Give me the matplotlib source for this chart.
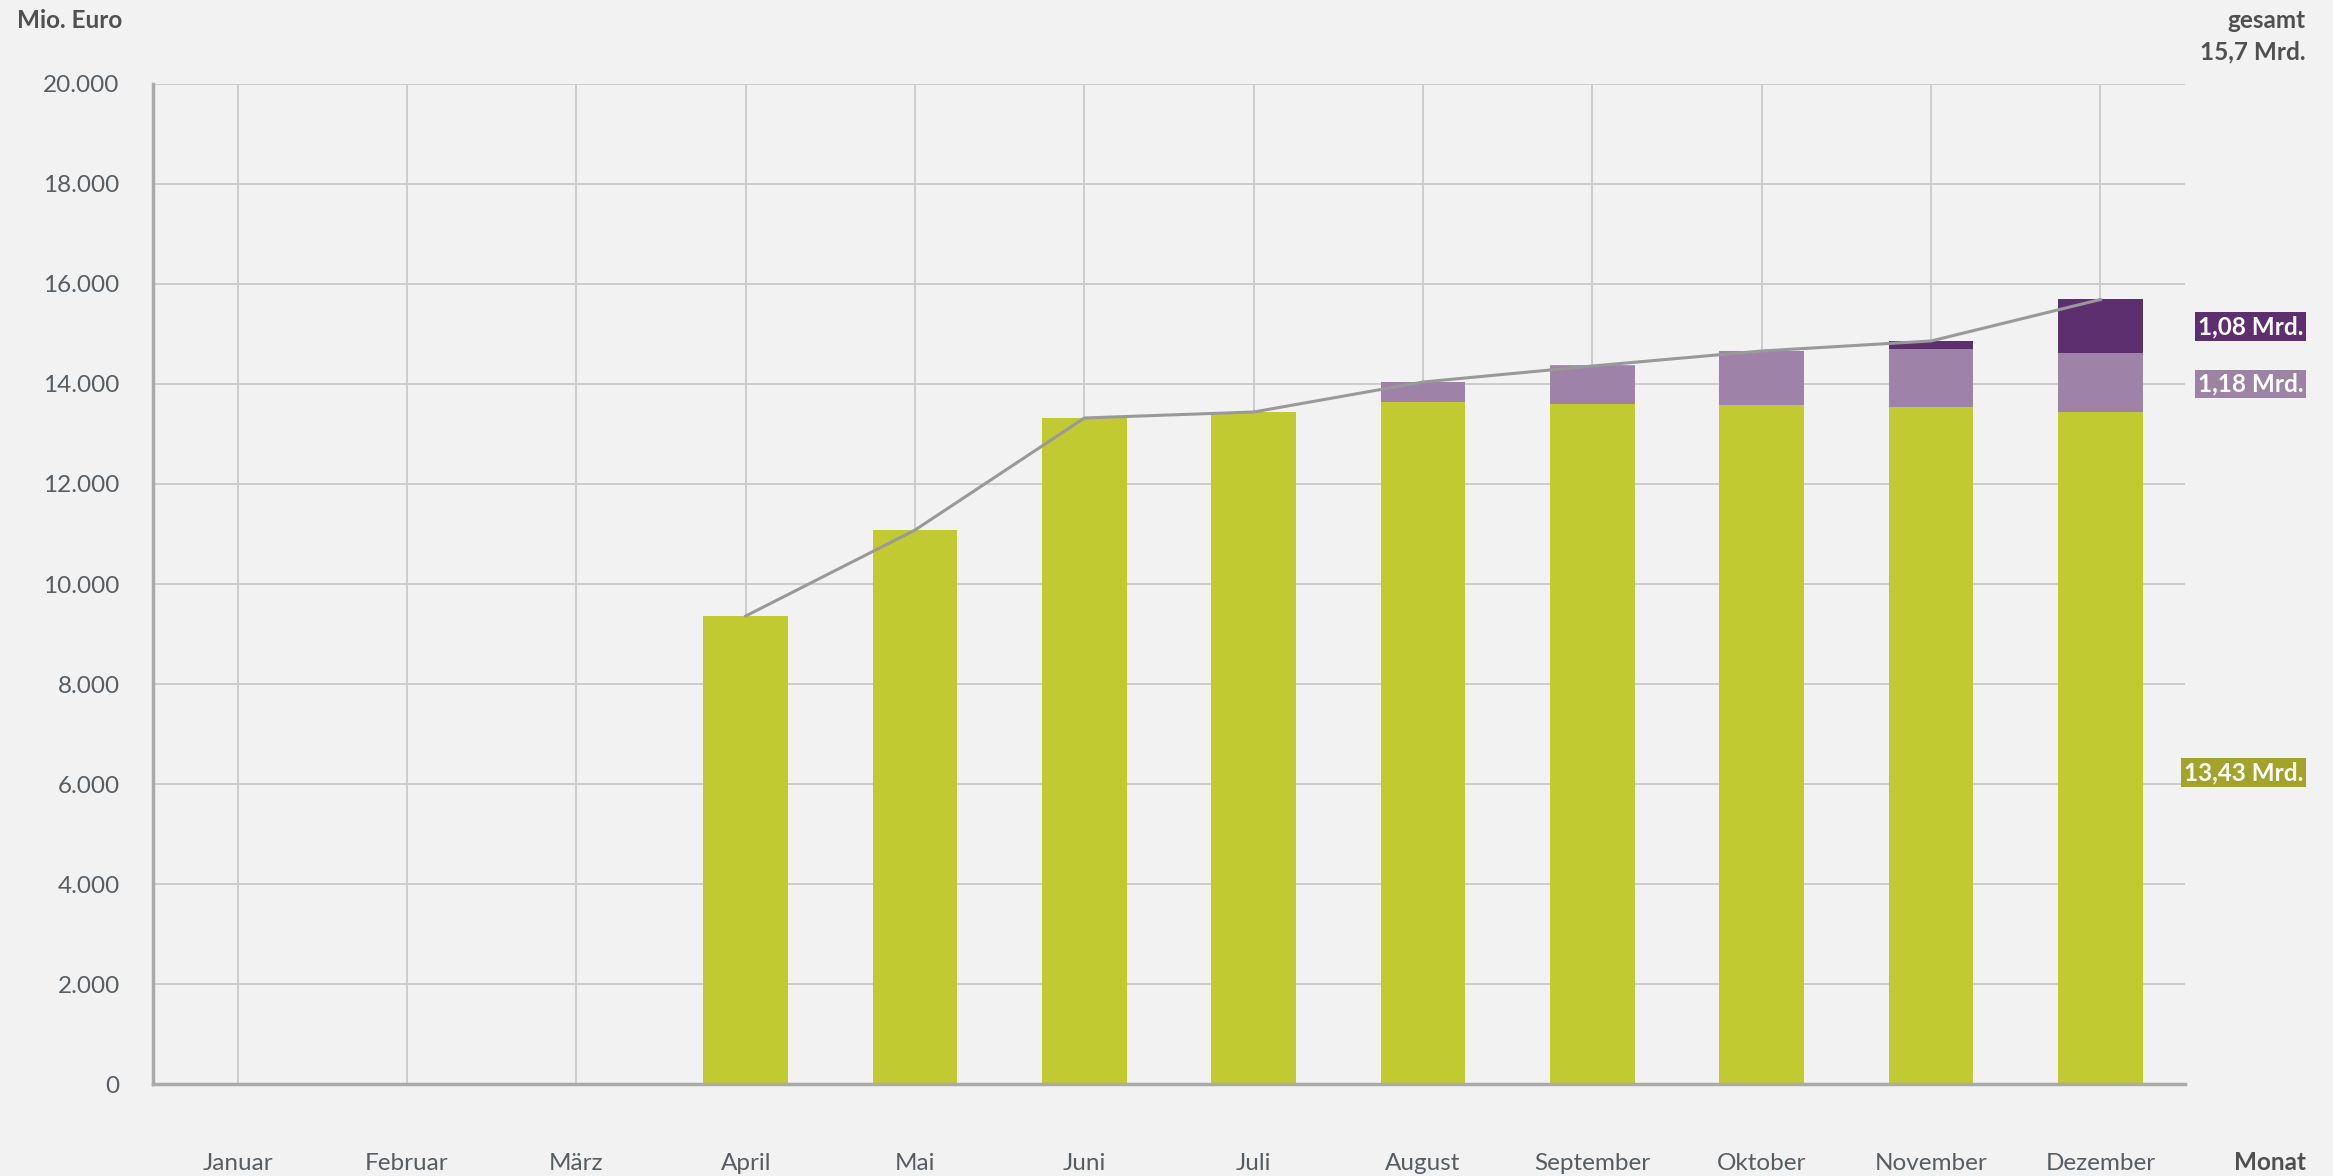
import matplotlib
matplotlib.use("Agg")
import matplotlib.pyplot as plt
import matplotlib.transforms as mtransforms
import numpy as np

# Data (Mio. Euro)
months = ["Januar", "Februar", "März", "April", "Mai", "Juni", "Juli",
          "August", "September", "Oktober", "November", "Dezember"]
green = [0, 0, 0, 9360, 11080, 13320, 13440, 13640, 13600, 13580, 13540, 13430]
light = [30, 0, 30, 0, 0, 0, 0, 400, 760, 1080, 1160, 1180]
dark = [0, 0, 0, 0, 0, 0, 0, 0, 0, 0, 160, 1080]
blue = [0, 30, 0, 0, 0, 0, 0, 0, 20, 0, 0, 0]
yticks = [0, 2000, 4000, 6000, 8000, 10000, 12000, 14000, 16000, 18000, 20000]
ytick_labels = ["0", "2.000", "4.000", "6.000", "8.000", "10.000", "12.000",
                "14.000", "16.000", "18.000", "20.000"]
side_labels = ["1,08 Mrd.", "1,18 Mrd.", "13,43 Mrd."]
side_pos = [15150, 14000, 6230]

# Colors
bg = "#f2f2f2"
c_green = "#c1ca30"
c_light = "#9e82a8"
c_dark = "#5e2f6e"
c_blue = "#7fa8c4"
c_text = "#575d61"

plt.rcParams['font.family'] = ['Lato', 'DejaVu Sans']

fig = plt.figure(figsize=(23.33, 11.76), dpi=100, facecolor=bg)
ax = fig.add_axes([0.0656, 0.0782, 0.8710, 0.8504])
ax.set_facecolor(bg)

x = np.arange(len(months))
g = np.array(green)
l = np.array(light)
d = np.array(dark)
b = np.array(blue)

# Stacked bars
ax.bar(x, g, width=0.5, color=c_green, zorder=2)
ax.bar(x, l, width=0.5, bottom=g, color=c_light, zorder=2)
ax.bar(x, d, width=0.5, bottom=g + l, color=c_dark, zorder=2)
ax.bar(x, b, width=0.5, bottom=g + l + d, color=c_blue, zorder=2)

# Total line, starting in April
total = g + l + d
ax.plot(x[3:], total[3:], color="#999999", lw=2.2, zorder=3)

# Axes
ax.set_xlim(-0.5, 11.5)
ax.set_ylim(0, 20000)
ax.set_yticks(yticks)
ax.set_yticklabels(ytick_labels)
ax.set_xticks(x)
ax.set_xticklabels(months)
ax.tick_params(axis="y", length=0, pad=24, labelsize=17.5, labelcolor=c_text)
ax.tick_params(axis="x", length=0, pad=50, labelsize=17.5, labelcolor=c_text)
ax.grid(True, color="#cccccc", lw=1.4, zorder=0)
ax.set_axisbelow(True)
for s in ["top", "right"]:
    ax.spines[s].set_visible(False)
ax.spines["left"].set_color("#aaaaaa")
ax.spines["left"].set_linewidth(2.5)
ax.spines["bottom"].set_color("#aaaaaa")
ax.spines["bottom"].set_linewidth(2.5)

# Text around the plot
fig.text(17 / 2333, 1 - 20 / 1176, "Mio. Euro", fontsize=17.5, fontweight="bold",
         color="#505050", ha="left", va="center")
fig.text(2305 / 2333, 1 - 20 / 1176, "gesamt", fontsize=17.5, fontweight="bold",
         color="#505050", ha="right", va="center")
fig.text(2305 / 2333, 1 - 52 / 1176, "15,7 Mrd.", fontsize=17.5, fontweight="bold",
         color="#505050", ha="right", va="center")
fig.text(2306 / 2333, 1 - 1163 / 1176, "Monat", fontsize=17.5, fontweight="bold",
         color="#505050", ha="right", va="center")

# Side value labels
trans = mtransforms.blended_transform_factory(fig.transFigure, ax.transData)
box_colors = [c_dark, "#9c83a3", "#a3a22b"]
for txt, pos, bc in zip(side_labels, side_pos, box_colors):
    ax.text(2303 / 2333, pos, txt, transform=trans, ha="right", va="center",
            fontsize=17.5, fontweight="bold", color="white", clip_on=False,
            bbox=dict(boxstyle="square,pad=0.12", fc=bc, ec="none"))

plt.savefig("out.png", dpi=100, facecolor=bg)
